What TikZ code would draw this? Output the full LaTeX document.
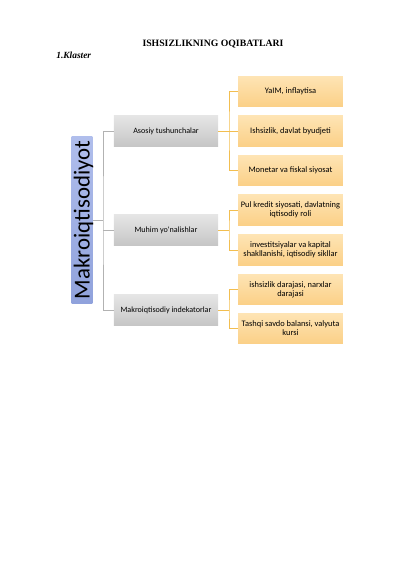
\documentclass[tikz,border=0pt]{standalone}
\usepackage{fontspec}
\setmainfont{Liberation Serif}
\newfontfamily\calfont{Carlito}
\definecolor{ortop}{RGB}{254,228,180}
\definecolor{orbot}{RGB}{251,208,135}
\definecolor{bltop}{RGB}{176,190,236}
\definecolor{blbot}{RGB}{144,162,220}
\definecolor{orlink}{RGB}{242,190,80}
\tikzset{
    midbox/.style={draw=none, top color=gray!20, bottom color=gray!45, minimum width=155pt, minimum height=47pt, inner sep=1pt, font=\calfont\fontsize{12}{13}\selectfont},
    resbox/.style={draw=none, top color=ortop, bottom color=orbot, minimum width=156pt, minimum height=45pt, inner sep=1pt, align=center, font=\calfont\fontsize{12.5}{13.5}\selectfont},
    grayline/.style={draw=gray!60, line width=0.6pt},
    orline/.style={draw=orlink, line width=0.7pt}
}
\begin{document}
\begin{tikzpicture}[x=1.4875pt, y=-1.4875pt]
    \useasboundingbox (0,0) rectangle (400,566);
    % title
    \node (title) at (213,44) {\fontsize{14.5}{16}\selectfont\bfseries ISHSIZLIKNING OQIBATLARI};
    \node[anchor=west] (klaster) at (54,55) {\fontsize{14}{16}\selectfont\bfseries\itshape 1.Klaster};
    % left box
    \node[draw=none, top color=bltop, bottom color=blbot, minimum width=31pt, minimum height=247pt, inner sep=0pt] (mak) at (82,220) {};
    \node[rotate=90, font=\calfont\fontsize{34}{36}\selectfont] (maktext) at (83.5,220) {Makroiqtisodiyot};
    % middle level
    \node[midbox] (asosiy) at (166,131) {Asosiy tushunchalar};
    \node[midbox] (muhim) at (166,230) {Muhim yo'nalishlar};
    \node[midbox] (makind) at (166,310) {Makroiqtisodiy indekatorlar};
    % right level
    \node[resbox] (r1) at (290.5,91.5) {YaIM, inflaytisa};
    \node[resbox] (r2) at (290.5,131) {Ishsizlik, davlat byudjeti};
    \node[resbox] (r3) at (290.5,170.5) {Monetar va fiskal siyosat};
    \node[resbox] (r4) at (290.5,210) {Pul kredit siyosati, davlatning\\iqtisodiy roli};
    \node[resbox] (r5) at (290.5,250) {investitsiyalar va kapital\\shakllanishi, iqtisodiy sikllar};
    \node[resbox] (r6) at (290.5,289.5) {ishsizlik darajasi, narxlar\\darajasi};
    \node[resbox] (r7) at (290.5,328.5) {Tashqi savdo balansi, valyuta\\kursi};
    % gray connectors
    \coordinate (gj) at (103,220);
    \draw[grayline] (mak.east) -- (gj);
    \draw[grayline] (asosiy.west) -| (gj) |- (makind.west);
    \draw[grayline] (gj |- muhim.west) -- (muhim.west);
    % orange connectors
    \coordinate (o1) at (229,131);
    \coordinate (o2) at (229,230);
    \coordinate (o3) at (229,310);
    \draw[orline] (asosiy.east) -- (o1);
    \draw[orline] (r1.west) -| (o1) |- (r3.west);
    \draw[orline] (o1) -- (r2.west);
    \draw[orline] (muhim.east) -- (o2);
    \draw[orline] (r4.west) -| (o2) |- (r5.west);
    \draw[orline] (makind.east) -- (o3);
    \draw[orline] (r6.west) -| (o3) |- (r7.west);
\end{tikzpicture}
\end{document}
